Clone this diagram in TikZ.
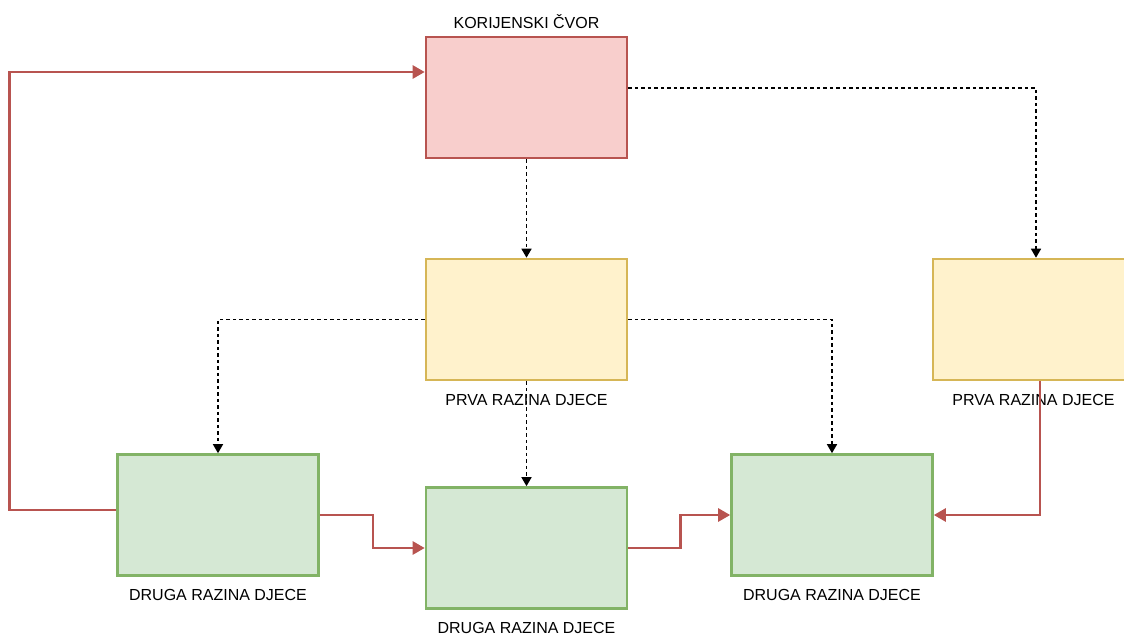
\documentclass[tikz,border=0pt]{standalone}
\usepackage{fontspec}
\setmainfont{Liberation Sans}
\usetikzlibrary{positioning, arrows.meta}

\definecolor{rootfill}{HTML}{F8CECC}
\definecolor{rootdraw}{HTML}{B85450}
\definecolor{firstfill}{HTML}{FFF2CC}
\definecolor{firstdraw}{HTML}{D6B656}
\definecolor{secondfill}{HTML}{D5E8D4}
\definecolor{seconddraw}{HTML}{82B366}

\tikzset{
  box/.style={rectangle, line width=2.6pt, minimum width=201pt, minimum height=121pt},
  boxroot/.style={box, fill=rootfill, draw=rootdraw},
  boxfirst/.style={box, fill=firstfill, draw=firstdraw},
  boxsecond/.style={box, fill=secondfill, draw=seconddraw},
  lbl/.style={inner sep=0pt, font=\fontsize{16}{19}\selectfont},
  linkred/.style={draw=rootdraw, line width=2.6pt, -{Triangle[length=12pt,width=13pt]}},
  linkdot/.style={black, line width=1.5pt, dash pattern=on 3.5pt off 3pt, -{Triangle[length=9pt,width=10pt]}}
}

\begin{document}
\begin{tikzpicture}[x=1pt, y=-1pt]
\useasboundingbox (0,0) rectangle (1124,635);
% boxes
\node (root) [boxroot] at (526.5,97.5) {};
\node (first1) [boxfirst] at (526.5,319.5) {};
\node (first2) [boxfirst] at (1033.5,319.5) {};
\node (second1) [boxsecond] at (218,515) {};
\node (second2) [boxsecond] at (526.5,548) {};
\node (second3) [boxsecond] at (832,515) {};
% labels
\node (rootlbl) [lbl, above=7pt of root] {KORIJENSKI ČVOR};
\node (first1lbl) [lbl, below=12.5pt of first1] {PRVA RAZINA DJECE};
\node (first2lbl) [lbl, below=12.5pt of first2] {PRVA RAZINA DJECE};
\node (second1lbl) [lbl, below=12.5pt of second1] {DRUGA RAZINA DJECE};
\node (second2lbl) [lbl, below=12.5pt of second2] {DRUGA RAZINA DJECE};
\node (second3lbl) [lbl, below=12.5pt of second3] {DRUGA RAZINA DJECE};
% tree links
\draw [linkdot] (root.south) -- (first1.north);
\draw [linkdot] ([yshift=9.5pt]root.east) -| ([xshift=2.5pt]first2.north);
\draw [linkdot] (first1.west) -| (second1.north);
\draw [linkdot] (first1.south) -- (second2.north);
\draw [linkdot] (first1.east) -| (second3.north);
% red links
\draw [linkred] ([yshift=5pt]second1.west) -- ++(-107,0) |- ([yshift=25.5pt]root.west);
\draw [linkred] (second1.east) -- ++(53,0) |- (second2.west);
\draw [linkred] (second2.east) -- ++(52,0) |- (second3.west);
\draw [linkred] ([xshift=6.5pt]first2.south) |- (second3.east);
\end{tikzpicture}
\end{document}
